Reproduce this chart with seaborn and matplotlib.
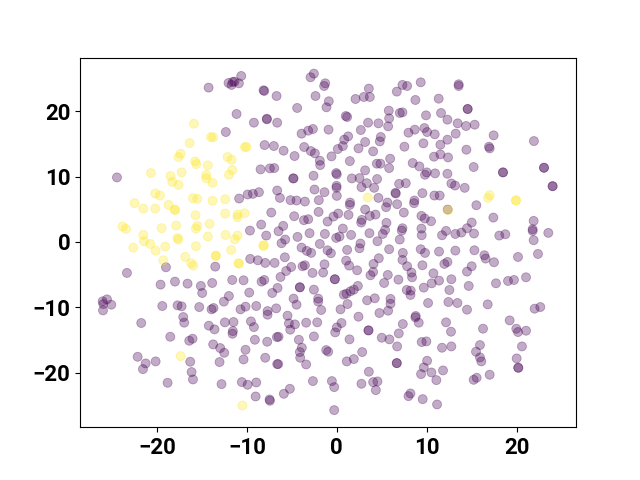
import matplotlib
matplotlib.use("Agg")
import matplotlib.pyplot as plt
import pandas as pd
import seaborn as sns

purple_left = [
(-14.26,23.59),(-10.63,25.37),(-12.04,24.30),(-11.71,24.0),(-11.56,24.46),(-11.37,24.51),(-10.89,24.25),(-11.15,19.56),(-12.34,16.80),(-24.45,9.86),
(-10.86,6.63),(-19.0,-3.88),(-13.52,-3.78),(-23.34,-4.74),(-19.6,-6.53),(-18.0,-6.07),(-16.6,-6.38),(-15.12,-6.73),(-13.86,-6.28),(-14.97,-7.81),(-12.0,-8.27),(-11.63,-5.82),(-10.37,-5.87),(-12.56,-9.13),(-26.04,-9.08),(-25.56,-8.78),
(-25.97,-9.50),(-26.0,-10.47),(-25.08,-9.60),(-19.41,-9.80),(-17.71,-9.70),(-17.26,-9.85),(-15.30,-9.96),(-13.93,-10.31),(-13.71,-10.11),(-10.71,-10.31),(-10.15,-9.90),(-17.08,-11.49),(-16.97,-12.35),(-21.75,-12.40),(-14.23,-12.81),(-13.60,-13.37),(-12.45,-12.30),(-11.49,-12.25),(-11.56,-13.63),(-11.60,-14.04),(-18.52,-14.50),(-16.41,-15.11),(-16.04,-14.80),(-13.75,-15.67),(-12.97,-16.23),(-12.52,-16.95),(-10.15,-16.49),(-22.15,-17.56),(-21.26,-18.58),(-21.56,-19.45),(-20.15,-18.27),(-16.30,-18.32),(-13.04,-18.37),(-10.37,-17.97),(-16.15,-19.90),(-16.0,-21.03),(-18.82,-21.54),(-12.82,-21.74),(-10.56,-21.43),
]
purple_mid_top = [
(-2.55,25.73),(-2.92,25.17),(-1.29,24.25),(-1.41,23.84),(-8.15,23.18),(-8.07,23.08),(-6.70,22.31),(-2.37,22.31),(3.56,23.44),(2.08,21.85),(3.0,22.16),(3.67,22.16),(7.30,24.0),(7.82,23.84),(6.67,22.98),(-0.89,21.50),(-1.15,20.58),(-4.41,20.48),(5.78,20.07),(7.0,19.71),(7.30,19.81),(1.0,19.25),(1.15,19.10),(-7.78,18.84),(-7.78,18.74),(-9.22,18.23),(-6.63,18.23),(3.48,18.23),(4.63,18.13),(5.82,18.89),(5.71,17.67),(2.67,17.11),(-0.92,17.16),(-2.66,17.26),(-3.18,17.01),(-3.92,16.55),(7.97,16.70),(1.26,16.14),(0.82,15.63),(0.67,14.66),(0.11,14.20),(4.89,16.04),(4.78,15.37),(3.15,15.27),(2.41,14.30),(4.04,13.84),(7.52,14.56),(-8.03,14.81),(-7.0,14.66),(-5.92,13.95),(-4.70,13.13),(-3.63,14.51),(-2.89,13.89),(-2.44,13.54),(-0.59,13.08),(1.45,12.36),(-1.89,12.41),(-1.85,11.75),(5.93,12.72),(4.45,11.96),(4.85,11.96),(5.82,11.29),(-8.48,11.09),(-7.44,11.24),(-6.96,11.29),(3.15,10.94),(-4.85,9.71),(-4.81,9.71),(-2.59,10.12),(-0.07,10.53),(0.0,10.32),(1.67,9.71),(2.52,9.76),(4.48,9.61),
]
purple_mid_center = [
(-9.92,7.25),(-9.33,7.35),(-8.66,7.60),(-6.63,7.86),(-6.33,6.73),(-5.15,6.38),(-4.48,6.33),(-3.55,6.17),(-2.48,8.01),(-1.37,7.60),(-2.0,6.38),(-0.03,8.57),(-0.03,8.27),(0.0,7.04),(2.74,8.37),(3.34,8.98),(4.15,8.27),(4.63,6.73),(6.93,8.88),(7.67,8.98),(6.52,7.50),(6.56,7.40),(5.63,6.02),(5.48,5.31),(6.71,5.77),(1.48,6.02),(1.45,5.66),(3.15,4.95),(4.30,4.18),(3.67,3.98),(2.78,3.37),(2.71,2.96),(7.45,4.49),(1.30,4.13),(0.15,4.34),(-0.37,3.88),(-1.03,3.11),(-2.03,4.59),(-3.18,3.47),(-3.66,3.32),(-4.74,3.93),(-7.29,4.49),(-8.41,2.65),(-5.96,2.45),(-6.48,1.63),(-9.66,1.73),(-7.85,0.97),(-5.74,0.36),(-6.15,-0.20),(-4.37,0.77),(-3.03,1.33),(-1.33,1.22),(0.67,2.04),(0.30,0.82),(-0.07,0.61),(1.59,1.07),(3.63,1.33),(5.52,2.91),(5.37,1.84),(5.11,1.22),(4.52,0.10),(7.30,2.09),(7.22,1.73),(7.0,0.36),(5.82,-1.12),(7.34,-1.68),(7.30,-2.75),(7.82,-3.72),(8.30,-4.69),(8.37,-5.41),(6.85,-5.77),(5.67,-5.05),(5.26,-6.28),(4.67,-2.50),(4.08,-3.37),(4.04,-4.59),(3.74,-5.10),(2.26,-4.34),(1.37,-3.62),(1.04,-2.86),(2.63,-0.25),(2.52,-0.97),(1.15,-1.22),(-1.03,-1.28),(-0.66,-1.73),(-1.89,-0.31),(-2.85,-1.68),(-3.33,-1.38),(-3.92,-0.87),(-5.78,-2.35),(-9.63,-2.60),(-8.78,-2.81),(-7.96,-3.21),(-6.92,-3.21),(-5.07,-3.83),(-5.63,-4.44),(-6.26,-5.36),(-8.07,-5.82),(-8.37,-6.07),(-3.55,-3.57),(-3.81,-3.72),(-1.37,-3.42),(-2.70,-4.74),(-1.52,-4.69),(-0.22,-5.71),(-0.22,-5.71),(-4.11,-6.94),(-4.11,-6.94),(-6.59,-7.04),(-7.18,-7.81),(-9.74,-7.75),(-2.55,-7.30),(-4.81,-8.67),(-2.07,-8.67),(-2.07,-9.13),(2.34,-6.73),(1.89,-7.30),(1.52,-7.55),(1.08,-7.91),(0.78,-8.06),(3.37,-8.93),(4.22,-8.62),(5.97,-8.72),(7.78,-7.35),(8.22,-7.45),(8.19,-8.11),
]
purple_mid_bottom = [
(-8.96,-9.80),(-7.70,-10.57),(-7.70,-11.13),(-6.74,-10.16),(-5.48,-11.28),(-4.48,-9.60),(-5.33,-12.46),(-4.66,-12.61),(-5.18,-13.42),(-3.41,-12.35),(-2.18,-12.30),(-1.74,-10.41),(0.41,-10.31),(1.19,-9.50),(2.41,-11.43),(4.74,-10.87),(5.71,-10.52),(5.97,-9.45),(-9.55,-12.15),(-9.22,-13.02),(0.52,-12.40),(0.0,-13.07),(-0.18,-13.83),(7.34,-12.56),(3.52,-13.53),(3.52,-13.53),(-2.55,-14.45),(-9.11,-14.96),(-7.74,-15.26),(-6.66,-14.55),(-6.48,-14.50),(-4.22,-14.96),(-3.89,-16.18),(-4.11,-16.84),(-4.07,-17.71),(-3.41,-18.73),(-1.18,-16.54),(-0.96,-16.79),(1.41,-14.90),(5.0,-14.65),(5.85,-14.90),(6.89,-13.99),(6.71,-15.98),(2.82,-16.84),(1.89,-17.91),(1.11,-18.27),(6.67,-18.53),(6.67,-18.53),(-7.96,-17.71),(-6.63,-18.68),(-6.52,-18.68),(3.56,-19.85),(-2.66,-21.28),(-0.55,-21.28),(-0.29,-22.20),(2.74,-21.69),(4.04,-21.43),(4.52,-21.33),(4.34,-22.66),(-8.96,-21.49),(-9.92,-21.84),(-9.03,-23.63),(-5.89,-23.22),(-5.22,-22.46),(-7.48,-24.09),(-7.44,-24.29),(-0.29,-25.72),(8.19,-23.17),(7.97,-23.58),
]
purple_right_top = [
(9.33,24.40),(13.55,24.10),(13.55,23.84),(11.33,21.90),(8.74,21.70),(14.55,20.32),(14.55,20.32),(9.92,19.35),(11.59,19.71),(12.30,18.69),(13.44,18.13),(14.37,17.72),(15.33,17.92),(8.67,17.16),(9.74,17.41),(10.04,16.80),(10.89,16.45),(13.22,16.55),(12.30,15.63),(9.63,15.07),(11.52,14.86),(17.44,16.29),(14.41,14.10),(16.92,14.56),(17.0,14.30),(21.92,15.42),(10.81,13.03),(11.52,13.38),(12.37,12.92),(8.44,12.06),(9.18,11.55),(10.0,10.63),(9.81,10.27),(10.92,10.48),(12.30,10.42),(15.22,11.45),(18.48,10.63),(18.48,10.63),(23.04,11.34),(23.04,11.34),
]
purple_right_center = [
(12.74,8.93),(13.15,8.62),(14.22,8.27),(24.0,8.52),(24.0,8.52),(9.52,7.45),(10.85,7.09),(11.44,7.09),(8.63,6.33),(8.59,5.92),(12.33,4.95),(15.52,5.61),(9.41,3.98),(9.78,3.57),(10.48,3.16),(15.0,2.96),(17.41,3.72),(21.89,3.21),(21.78,1.94),(21.78,1.68),(21.89,0.26),(23.52,1.38),(9.41,2.04),(9.44,1.02),(12.15,1.68),(11.70,1.02),(13.18,1.22),(13.85,1.43),(14.48,2.09),(15.26,1.28),(18.07,0.97),(18.74,1.17),(9.33,-1.12),(9.81,-1.68),(11.37,-1.48),(13.18,-1.33),(15.30,-1.28),(16.41,-2.04),(16.55,-2.55),(17.48,-3.11),(20.15,-2.30),(22.37,-1.84),(12.30,-3.06),(11.96,-3.37),(9.52,-3.57),(15.0,-3.72),(14.48,-4.54),(10.74,-4.80),(11.37,-5.92),(10.55,-6.33),(12.74,-5.71),(9.67,-6.99),(12.52,-7.35),(14.67,-6.73),(17.70,-6.33),(19.04,-5.97),(19.70,-5.82),(21.04,-5.41),
]
purple_right_bottom = [
(10.15,-9.34),(12.41,-9.19),(13.41,-9.34),(14.48,-10.36),(16.78,-9.55),(22.0,-10.21),(22.63,-9.96),(8.78,-11.33),(8.74,-11.54),(9.11,-12.35),(12.15,-12.30),(12.70,-13.73),(16.26,-13.27),(19.22,-12.0),(19.96,-13.27),(20.15,-13.78),(21.04,-13.58),(9.44,-15.31),(9.96,-15.21),(11.70,-16.18),(12.74,-15.98),(15.92,-15.77),(15.48,-16.79),(15.92,-17.66),(16.07,-18.27),(20.59,-15.98),(20.0,-17.81),(20.18,-19.24),(20.18,-19.24),(10.04,-18.17),(9.67,-19.19),(9.37,-20.21),(10.52,-19.96),(11.81,-19.65),(11.07,-21.13),(15.22,-21.08),(15.55,-20.77),(17.0,-20.31),(9.55,-24.04),(11.15,-24.85),
]
yellow_points = [
(-15.89,18.08),(-14.0,16.04),(-13.75,15.99),(-16.37,15.12),(-10.23,14.51),(-10.04,14.51),(-17.37,13.49),(-17.6,12.98),(-12.15,12.98),(-11.71,12.57),(-15.75,12.31),(-15.63,11.90),(-14.34,11.70),(-11.63,10.99),(-12.0,10.27),(-20.67,10.53),(-18.49,10.07),(-17.26,10.63),(-14.52,10.22),(-14.52,9.71),
(-18.30,9.18),(-17.6,8.72),(-13.82,9.03),(-20.19,7.40),(-19.67,7.09),(-22.49,5.92),(-21.52,5.10),(-20.19,5.10),(-18.71,5.66),(-18.04,4.95),(-17.97,4.85),(-16.0,6.68),(-15.52,6.58),(-13.82,6.28),(-12.41,6.53),(-15.71,4.08),(-12.41,4.34),(-11.04,4.18),(-11.04,3.78),(-10.26,4.39),(-23.82,2.35),(-23.45,1.99),(-19.49,2.09),(-17.86,2.50),(-15.52,2.45),(-15.67,2.04),(-14.15,2.76),(-21.52,1.07),(-21.45,0.10),(-20.75,-0.31),(-17.71,0.61),(-17.63,0.36),(-14.34,0.82),(-12.37,1.07),(-11.04,0.97),(-11.34,0.41),(-22.63,-0.87),(-20.15,-1.33),(-19.08,-0.71),(-15.67,-0.66),(-11.75,-1.22),(-13.45,-2.09),(-13.45,-2.14),(-16.86,-2.30),(-19.30,-2.81),(-16.19,-3.27),(-15.97,-3.62),(-10.93,-3.27),(-10.89,-3.32),
(-17.37,-17.46),(-10.49,-25.01),(3.45,6.79),(-8.18,-0.61),(-8.11,-0.51),(12.37,4.85),(17.0,7.14),(16.81,6.73),(19.92,6.38),(19.92,6.30),
]
tick_values = [-20, -10, 0, 10, 20]

purple_points = (purple_left + purple_mid_top + purple_mid_center + purple_mid_bottom
                 + purple_right_top + purple_right_center + purple_right_bottom)
frame = pd.DataFrame(
    [(x, y, "a") for x, y in purple_points] + [(x, y, "b") for x, y in yellow_points],
    columns=["tsne_1", "tsne_2", "label"],
)

sns.set_theme(style="ticks", rc={"axes.linewidth": 1.0})
plt.rcParams["font.family"] = ["Roboto", "DejaVu Sans"]
fig, ax = plt.subplots(figsize=(6.4, 4.8), dpi=100)
sns.scatterplot(
    data=frame, x="tsne_1", y="tsne_2", hue="label",
    palette={"a": "#440154", "b": "#fde725"},
    s=42, alpha=0.33, edgecolor="face", linewidth=0.6, legend=False, ax=ax,
)
ax.set_xlim(-28.56, 26.6)
ax.set_ylim(-28.33, 28.18)
ax.set_xticks(tick_values)
ax.set_yticks(tick_values)
ax.set_xlabel("")
ax.set_ylabel("")
ax.tick_params(labelsize=16, length=3.5, width=0.8, color="black", labelcolor="black")
for label in ax.get_xticklabels() + ax.get_yticklabels():
    label.set_fontweight("bold")
for spine in ax.spines.values():
    spine.set_visible(True)
    spine.set_color("black")
    spine.set_linewidth(0.8)
fig.savefig("out.png", dpi=100)
